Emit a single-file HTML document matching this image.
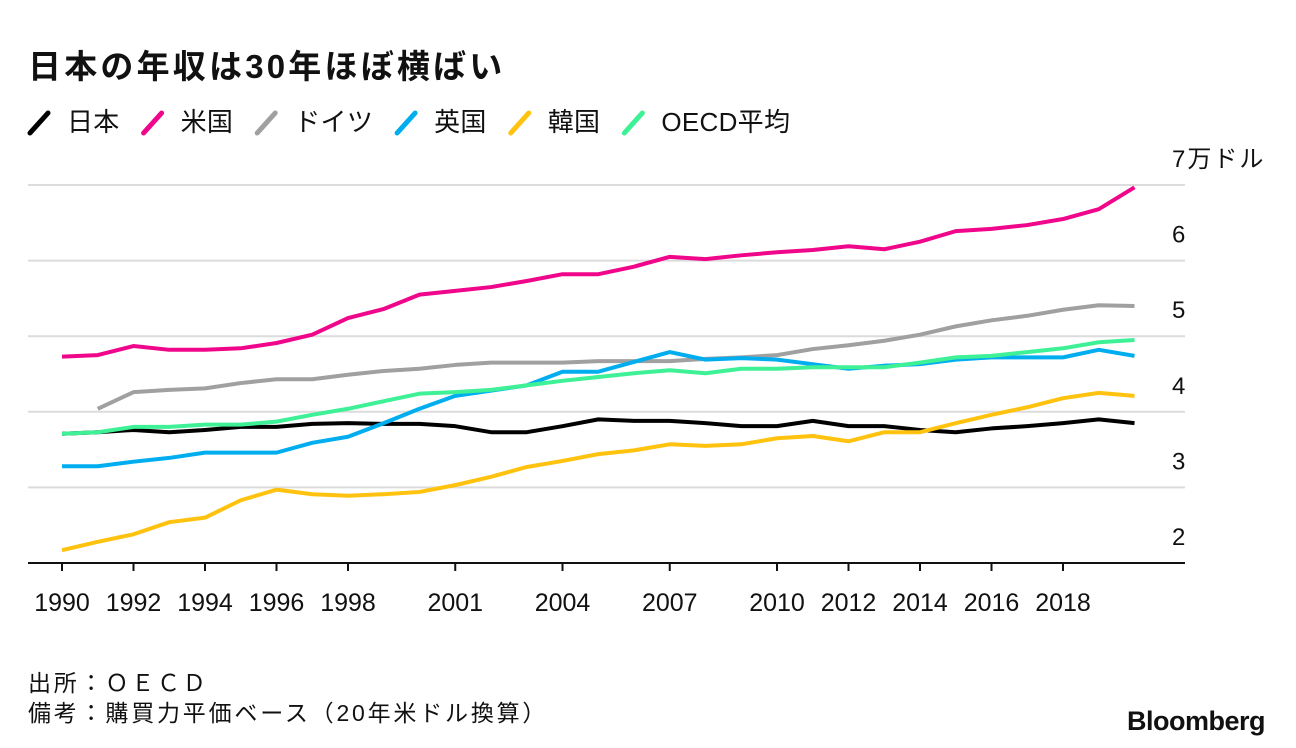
<!DOCTYPE html>
<html><head><meta charset="utf-8"><style>
body{margin:0;width:1296px;height:748px;background:#fff;font-family:"Liberation Sans","Noto Sans CJK JP",sans-serif;overflow:hidden;position:relative}
.t{position:absolute;white-space:nowrap;color:#111}
</style></head><body>
<div class="t" style="left:28px;top:40px;font-size:33px;font-weight:bold;letter-spacing:3.2px">日本の年収は30年ほぼ横ばい</div>
<div class="t" style="left:28px;top:664px;font-size:23px;letter-spacing:2.8px">出所：ＯＥＣＤ</div>
<div class="t" style="left:28px;top:694px;font-size:23px;letter-spacing:2.8px">備考：購買力平価ベース（20年米ドル換算）</div>
<div class="t" style="left:1127px;top:706px;font-size:27px;font-weight:bold;letter-spacing:-0.5px">Bloomberg</div>
<svg id="c" width="1296" height="748" style="position:absolute;left:0;top:0"></svg>
<script>
const years=[];for(let y=1990;y<=2020;y++)years.push(y);
const tickYears=[1990,1992,1994,1996,1998,2001,2004,2007,2010,2012,2014,2016,2018];
const yTicks=[2,3,4,5,6,7];
const names=["日本","米国","ドイツ","英国","韓国","OECD平均"];
const colors=["#000000","#f0068a","#a0a0a0","#00aef0","#ffc20e","#3ef096"];
const japan=[3.71,3.73,3.76,3.73,3.76,3.80,3.80,3.84,3.85,3.84,3.84,3.81,3.73,3.73,3.81,3.90,3.88,3.88,3.85,3.81,3.81,3.88,3.81,3.81,3.76,3.73,3.78,3.81,3.85,3.90,3.85];
const usa=[4.73,4.75,4.87,4.82,4.82,4.84,4.91,5.02,5.24,5.36,5.55,5.60,5.65,5.73,5.82,5.82,5.92,6.05,6.02,6.07,6.11,6.14,6.19,6.15,6.25,6.39,6.42,6.47,6.55,6.68,6.97];
const germany=[null,4.04,4.26,4.29,4.31,4.38,4.43,4.43,4.49,4.54,4.57,4.62,4.65,4.65,4.65,4.67,4.67,4.67,4.70,4.72,4.75,4.83,4.88,4.94,5.02,5.13,5.21,5.27,5.35,5.41,5.40];
const uk=[3.28,3.28,3.34,3.39,3.46,3.46,3.46,3.59,3.67,3.85,4.04,4.21,4.28,4.35,4.53,4.53,4.66,4.79,4.69,4.71,4.69,4.63,4.57,4.61,4.63,4.69,4.72,4.72,4.72,4.82,4.74];
const korea=[2.17,2.28,2.38,2.54,2.60,2.83,2.97,2.91,2.89,2.91,2.94,3.03,3.14,3.27,3.35,3.44,3.49,3.57,3.55,3.57,3.65,3.68,3.61,3.73,3.73,3.85,3.96,4.06,4.18,4.25,4.21];
const oecd=[3.71,3.73,3.80,3.80,3.83,3.83,3.87,3.96,4.04,4.14,4.24,4.26,4.29,4.35,4.41,4.46,4.51,4.55,4.51,4.57,4.57,4.59,4.59,4.59,4.65,4.72,4.74,4.79,4.84,4.92,4.95];
const series=[japan,usa,germany,uk,korea,oecd];
const X=y=>62+(y-1990)*35.75, Y=v=>563-(v-2)*75.6;
const svg=document.getElementById('c'),NS="http://www.w3.org/2000/svg";
function mk(t,a){const e=document.createElementNS(NS,t);for(const k in a)e.setAttribute(k,a[k]);svg.appendChild(e);return e;}
yTicks.forEach(v=>{
 if(v>2){const g=mk('line',{x1:28,x2:1185,y1:Y(v),y2:Y(v),stroke:'#dcdcdc','stroke-width':2});
 
 }
 const t=mk('text',{x:1172,y:Y(v)-18,'font-size':24,fill:'#111','letter-spacing':v===7?2:0});t.textContent=v===7?'7万ドル':String(v);
 
 
});
const ax=mk('line',{x1:28,x2:1185,y1:563,y2:563,stroke:'#111','stroke-width':2});


tickYears.forEach(y=>{
 const tk=mk('line',{x1:X(y),x2:X(y),y1:563,y2:571,stroke:'#111','stroke-width':2});
 
 
 const t=mk('text',{x:X(y),y:611,'font-size':25,'text-anchor':'middle',fill:'#111'});t.textContent=y;
 
 
});
series.forEach((s,i)=>{
 let d='';s.forEach((v,j)=>{if(v==null)return;d+=(d?'L':'M')+X(years[j])+','+Y(v);});
 const p=mk('path',{d:d,fill:'none',stroke:colors[i],'stroke-width':4,'stroke-linejoin':'round'});
 
 
});
let lx=30;
names.forEach((n,i)=>{
 const m=mk('line',{x1:lx,y1:133,x2:lx+18,y2:113,stroke:colors[i],'stroke-width':5,'stroke-linecap':'round'});
 
 
 const t=mk('text',{x:lx+37,y:131,'font-size':26,fill:'#111','letter-spacing':0.3});t.textContent=n;
 
 
 lx+=37+t.getComputedTextLength()+24;
});
</script>
</body></html>
